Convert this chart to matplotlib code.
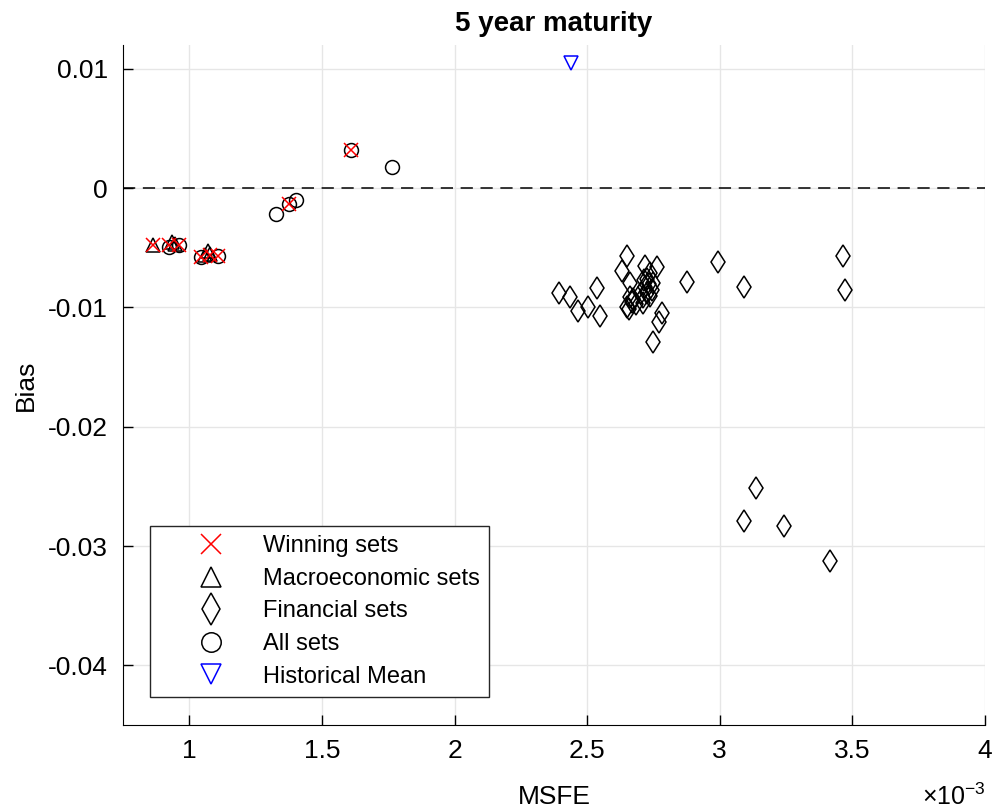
import numpy as np
import matplotlib
matplotlib.use('Agg')
from matplotlib import pyplot as plt, rcParams
from matplotlib.ticker import FuncFormatter

rcParams['font.family'] = ['Liberation Sans', 'DejaVu Sans']
rcParams['axes.unicode_minus'] = False
rcParams['mathtext.fontset'] = 'custom'
rcParams['mathtext.rm'] = 'Liberation Sans'

# MSFE values (x) and bias values (y)
win_msfe = np.array([0.865, 0.925, 0.96, 1.045, 1.08, 1.11, 1.375, 1.61]) * 1e-3
win_bias = np.array([-0.0048, -0.0048, -0.0048, -0.0058, -0.0056, -0.0057, -0.0013, 0.0032])

macro_msfe = np.array([0.863, 0.935, 0.945, 1.07, 1.078, 1.06]) * 1e-3
macro_bias = np.array([-0.0048, -0.0045, -0.0047, -0.0053, -0.0055, -0.0056])

fin_msfe = np.array([
    2.395, 2.436, 2.464, 2.505, 2.549, 2.537, 2.650, 2.631, 2.662, 2.652,
    2.669, 2.662, 2.719, 2.763, 2.725, 2.738, 2.712, 2.725, 2.744, 2.710,
    2.750, 2.782, 2.769, 2.750, 2.877, 2.993, 3.093, 3.466, 3.473, 3.137,
    3.092, 3.243, 3.417, 2.715, 2.734, 2.719, 2.738, 2.704, 2.685, 2.659,
    2.674,
]) * 1e-3
fin_bias = np.array([
    -0.00877, -0.00915, -0.01028, -0.00999, -0.01072, -0.0084, -0.0057, -0.00695, -0.00793, -0.00994,
    -0.00952, -0.00915, -0.00653, -0.00659, -0.00765, -0.00714, -0.0091, -0.00882, -0.00854, -0.00966,
    -0.00798, -0.01044, -0.0112, -0.01287, -0.00785, -0.00617, -0.00827, -0.0057, -0.00854, -0.02513,
    -0.02789, -0.0283, -0.03121, -0.0077, -0.0080, -0.0083, -0.0090, -0.0088, -0.0097, -0.0101,
    -0.0093,
])

all_msfe = np.array([0.925, 0.96, 1.045, 1.11, 1.328, 1.375, 1.403, 1.61, 1.763]) * 1e-3
all_bias = np.array([-0.0049, -0.0048, -0.0058, -0.0057, -0.0022, -0.0013, -0.0010, 0.0032, 0.0018])

hist_msfe = np.array([2.44]) * 1e-3
hist_bias = np.array([0.0105])

scale = 1e-3

fig = plt.figure(figsize=(9.94, 8.11), dpi=100)
ax = fig.add_axes([0.1237, 0.106, 0.8673, 0.8385])

ax.axhline(0, color='k', linestyle=(0, (8, 5)), linewidth=1.1, zorder=1)

ax.plot(macro_msfe / scale, macro_bias, '^', mfc='none', mec='k', ms=10, mew=1.1,
        label='Macroeconomic sets', zorder=3)
ax.plot(fin_msfe / scale, fin_bias, 'd', mfc='none', mec='k', ms=11.5, mew=1.1,
        label='Financial sets', zorder=3)
ax.plot(all_msfe / scale, all_bias, 'o', mfc='none', mec='k', ms=10, mew=1.1,
        label='All sets', zorder=3)
ax.plot(hist_msfe / scale, hist_bias, 'v', mfc='none', mec='b', ms=10, mew=1.1,
        label='Historical Mean', zorder=3)
ax.plot(win_msfe / scale, win_bias, 'x', color='r', ms=10, mew=1.1,
        label='Winning sets', zorder=4)

ax.set_xlim(0.75, 4.0)
ax.set_ylim(-0.045, 0.012)
ax.set_xticks(np.arange(1, 4.01, 0.5))
ax.set_yticks([-0.04, -0.03, -0.02, -0.01, 0, 0.01])
ax.xaxis.set_major_formatter(FuncFormatter(lambda v, p: f'{v:g}'))
ax.yaxis.set_major_formatter(FuncFormatter(lambda v, p: f'{v:g}'))

ax.grid(True, color='#e6e6e6', linewidth=1.0)
ax.set_axisbelow(True)
ax.spines['top'].set_visible(False)
ax.spines['right'].set_visible(False)
ax.tick_params(direction='in', length=7, labelsize=19, width=1)
ax.tick_params(axis='x', pad=10)
ax.tick_params(axis='y', pad=11)

ax.set_xlabel('MSFE', fontsize=19, labelpad=16)
ax.set_ylabel('Bias', fontsize=19, labelpad=7)
ax.set_title('5 year maturity', fontsize=20, fontweight='bold', pad=10)
fig.text(0.992, 0.018, r'$\times\mathregular{10^{-3}}$', ha='right', va='center',
         fontsize=18)

handles, labels = ax.get_legend_handles_labels()
order = [4, 0, 1, 2, 3]
leg = ax.legend([handles[i] for i in order], [labels[i] for i in order],
                loc='lower left', bbox_to_anchor=(0.031, 0.041), fontsize=17,
                frameon=True, fancybox=False, edgecolor='#262626', framealpha=1,
                handlelength=4.4, handletextpad=0.0, borderpad=0.4, labelspacing=0.45,
                borderaxespad=0, markerscale=1.4)
leg.get_frame().set_linewidth(1.0)

fig.savefig('out.png', dpi=100)
